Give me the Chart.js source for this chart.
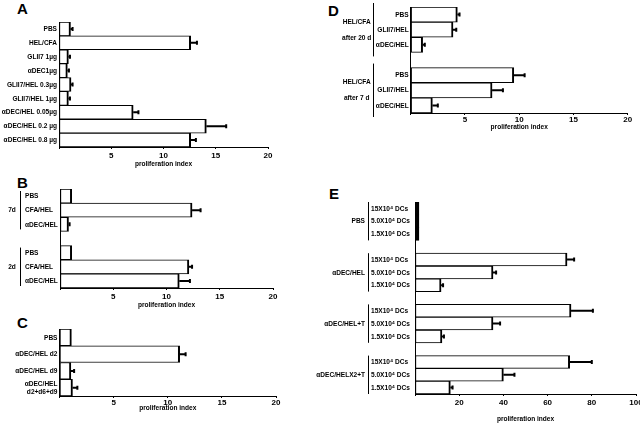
<!DOCTYPE html>
<html>
<head>
<meta charset="utf-8">
<script src="https://cdn.jsdelivr.net/npm/chart.js@4.4.1/dist/chart.umd.min.js"></script>
<style>
  body { margin: 0; background: #fff; width: 640px; height: 424px; position: relative; overflow: hidden; }
  canvas { position: absolute; }
  .lt { position: absolute; font: bold 15px/15px "Liberation Sans", Arial, sans-serif; color: #000; }
</style>
</head>
<body>
<div class="lt" style="left:17px;top:1px">A</div>
<div class="lt" style="left:17px;top:175px">B</div>
<div class="lt" style="left:17px;top:315px">C</div>
<div class="lt" style="left:328px;top:3px">D</div>
<div class="lt" style="left:329px;top:186px">E</div>

<canvas id="chartA" width="300" height="170" style="left:0;top:0"></canvas>
<canvas id="chartB" width="300" height="141" style="left:0;top:170px"></canvas>
<canvas id="chartC" width="300" height="102" style="left:0;top:311px"></canvas>
<canvas id="chartD" width="330" height="133" style="left:310px;top:0"></canvas>
<canvas id="chartE" width="330" height="234" style="left:310px;top:190px"></canvas>

<script>
// Panel A
var aLabels = ['PBS', 'HEL/CFA', 'GLII7 1µg', 'αDEC1µg', 'GLII7/HEL 0.3µg', 'GLII7/HEL 1µg',
               'αDEC/HEL 0.05µg', 'αDEC/HEL 0.2 µg', 'αDEC/HEL 0.8 µg'];
var aValues = [1.1, 12.6, 0.9, 0.8, 1.15, 0.9, 7.1, 14.1, 12.6];
var aErrors = [1.3, 13.2, 1.05, 0.95, 1.3, 1.05, 7.6, 16.0, 13.1];

// Panel B (blank category = gap between groups)
var bLabels = ['PBS', 'CFA/HEL', 'αDEC/HEL', '', 'PBS', 'CFA/HEL', 'αDEC/HEL'];
var bValues = [1.1, 12.4, 0.8, null, 1.1, 12.1, 11.2];
var bErrors = [null, 13.2, 0.9, null, null, 12.4, 12.2];
var bGroups = ['7d', '2d'];

// Panel C
var cLabels = ['PBS', 'αDEC/HEL d2', 'αDEC/HEL d9', ['αDEC/HEL', 'd2+d6+d9']];
var cValues = [1.1, 11.1, 1.05, 1.2];
var cErrors = [null, 11.65, 1.35, 1.65];

// Panel D
var dLabels = ['PBS', 'GLII7/HEL', 'αDEC/HEL', '', 'PBS', 'GLII7/HEL', 'αDEC/HEL'];
var dValues = [4.3, 3.9, 1.1, null, 9.5, 7.5, 2.0];
var dErrors = [4.5, 4.2, 1.3, null, 10.5, 8.5, 2.5];
var dGroups = [['HEL/CFA', 'after 20 d'], ['HEL/CFA', 'after 7 d']];

// Panel E
var eLabels = ['15X10⁴ DCs', '5.0X10⁴ DCs', '1.5X10⁴ DCs', '',
               '15X10⁴ DCs', '5.0X10⁴ DCs', '1.5X10⁴ DCs', '',
               '15X10⁴ DCs', '5.0X10⁴ DCs', '1.5X10⁴ DCs', '',
               '15X10⁴ DCs', '5.0X10⁴ DCs', '1.5X10⁴ DCs'];
var eValues = [1.8, 1.8, 1.8, null, 68.8, 35.3, 11.8, null, 70.6, 35.3, 12.2, null, 70, 40, 16];
var eErrors = [null, null, null, null, 72, 36.7, 12.7, null, 80.5, 38.5, 13.1, null, 80, 45, 17];
var eGroups = ['PBS', 'αDEC/HEL', 'αDEC/HEL+T', 'αDEC/HELX2+T'];

var FONT = '"Liberation Sans", Arial, sans-serif';
var LABEL_FONT = 'bold 8px ' + FONT;
var SQUEEZE = 0.82;   // the figure uses a condensed face

function squeezedText(ctx, t, x, y, align) {
  ctx.save();
  ctx.translate(x, y);
  ctx.scale(SQUEEZE, 1);
  ctx.textAlign = align;
  ctx.fillText(t, 0, 0);
  ctx.restore();
}

// error bars, category labels, group brackets, axis title
var extras = {
  id: 'extras',
  afterDraw: function(chart, args, opts) {
    var ctx = chart.ctx, meta = chart.getDatasetMeta(0);
    var xs = chart.scales.x, ys = chart.scales.y, area = chart.chartArea;
    ctx.save();
    ctx.strokeStyle = '#000';
    ctx.fillStyle = '#000';
    ctx.lineWidth = 2;
    opts.errors.forEach(function(e, i) {
      if (e == null) return;
      var bar = meta.data[i];
      var x2 = xs.getPixelForValue(e);
      ctx.beginPath();
      ctx.moveTo(bar.x, bar.y); ctx.lineTo(x2, bar.y);
      ctx.moveTo(x2, bar.y - 2); ctx.lineTo(x2, bar.y + 2);
      ctx.stroke();
    });

    ctx.font = LABEL_FONT;
    ctx.textBaseline = 'middle';
    var lx = opts.labelAlign === 'left' ? area.left - opts.labelWidth : area.left - 2;
    chart.data.labels.forEach(function(l, i) {
      var lines = Array.isArray(l) ? l : [l];
      var y = ys.getPixelForValue(i);
      lines.forEach(function(t, k) {
        squeezedText(ctx, t, lx, y + (k - (lines.length - 1) / 2) * 7.5, opts.labelAlign);
      });
    });

    var step = ys.getPixelForValue(1) - ys.getPixelForValue(0);
    ctx.lineWidth = 1;
    opts.groups.forEach(function(g) {
      var y1 = ys.getPixelForValue(g.from) - step / 2 - opts.bracketPad;
      var y2 = ys.getPixelForValue(g.to) + step / 2 + opts.bracketPad;
      var bx = Math.round(area.left - opts.bracketOffset) + 0.5;
      ctx.beginPath(); ctx.moveTo(bx, y1); ctx.lineTo(bx, y2); ctx.stroke();
      var mid = (y1 + y2) / 2, n = g.text.length;
      g.text.forEach(function(t, k) {
        squeezedText(ctx, t, area.left - opts.groupOffset, mid + (k - (n - 1) / 2) * opts.lineGap, opts.groupAlign);
      });
    });

    squeezedText(ctx, 'proliferation index', (area.left + area.right) / 2, area.bottom + opts.titleOffset, 'center');
    ctx.restore();
  }
};

function groupsFrom(texts) {
  return texts.map(function(t, k) {
    return { text: Array.isArray(t) ? t : [t], from: k * 4, to: k * 4 + 2 };
  });
}

// very thin bars print as solid black in the figure
function barFill(c) {
  var x = c.chart.scales.x;
  if (!x || c.raw == null) return '#fff';
  return (x.getPixelForValue(c.raw) - x.getPixelForValue(0)) < 6 ? '#000' : '#fff';
}

function makeChart(id, labels, values, errors, o) {
  return new Chart(document.getElementById(id), {
    type: 'bar',
    data: {
      labels: labels,
      datasets: [{
        data: values,
        backgroundColor: barFill,
        borderColor: '#000',
        borderWidth: { top: 1, bottom: 1, left: 1, right: 2 },
        borderSkipped: false,
        barPercentage: 1,
        categoryPercentage: 1
      }]
    },
    plugins: [extras],
    options: {
      indexAxis: 'y',
      responsive: false,
      animation: false,
      devicePixelRatio: 1,
      layout: { padding: o.padding },
      plugins: {
        legend: { display: false },
        tooltip: { enabled: false },
        extras: {
          errors: errors,
          labelAlign: o.labelAlign || 'right',
          labelWidth: o.yWidth,
          groups: o.groups || [],
          groupAlign: o.groupAlign || 'center',
          bracketOffset: o.bracketOffset || 0,
          bracketPad: o.bracketPad || 0,
          groupOffset: o.groupOffset || 0,
          lineGap: o.lineGap || 9,
          titleOffset: o.titleOffset
        }
      },
      scales: {
        x: {
          min: 0, max: o.xMax,
          grid: { display: true, drawOnChartArea: false, drawTicks: true, tickLength: 2, color: '#000' },
          border: { display: true, color: '#000', width: 1 },
          ticks: {
            stepSize: o.xStep, maxRotation: 0, color: '#000', padding: o.tickPad,
            font: { family: FONT, size: 8, weight: 'bold' },
            callback: function(v) { return v === 0 ? '' : v; }
          },
          afterFit: function(s) { s.height = o.xHeight; s.paddingLeft = 0; s.paddingRight = 0; }
        },
        y: {
          offset: true,
          grid: { display: false, drawTicks: false },
          border: { display: true, color: '#000', width: 1 },
          ticks: { display: false },
          afterFit: function(s) { s.width = o.yWidth; }
        }
      }
    }
  });
}

makeChart('chartA', aLabels, aValues, aErrors, {
  xMax: 20, xStep: 5, yWidth: 59, xHeight: 23, tickPad: 2, titleOffset: 17,
  padding: { top: 22, right: 32, left: 0, bottom: 0 }
});

makeChart('chartB', bLabels, bValues, bErrors, {
  xMax: 20, xStep: 5, yWidth: 35, xHeight: 23, tickPad: 2, titleOffset: 17,
  padding: { top: 19, right: 27, left: 25, bottom: 0 },
  labelAlign: 'left', groups: groupsFrom(bGroups),
  bracketOffset: 40, bracketPad: -2, groupOffset: 48
});

makeChart('chartC', cLabels, cValues, cErrors, {
  xMax: 20, xStep: 5, yWidth: 59.5, xHeight: 17, tickPad: 0, titleOffset: 12,
  padding: { top: 18, right: 24, left: 0, bottom: 0 }
});

makeChart('chartD', dLabels, dValues, dErrors, {
  xMax: 20, xStep: 5, yWidth: 100.7, xHeight: 20, tickPad: 0, titleOffset: 14,
  padding: { top: 7, right: 12.3, left: 0, bottom: 0 },
  groups: groupsFrom(dGroups),
  bracketOffset: 38, bracketPad: 4, groupOffset: 54, lineGap: 16
});

makeChart('chartE', eLabels, eValues, eErrors, {
  xMax: 100, xStep: 20, yWidth: 44, xHeight: 30, tickPad: 2, titleOffset: 25,
  padding: { top: 12, right: 4, left: 61, bottom: 0 },
  labelAlign: 'left', groups: groupsFrom(eGroups), groupAlign: 'right',
  bracketOffset: 47, bracketPad: 0, groupOffset: 50
});
</script>
</body>
</html>
